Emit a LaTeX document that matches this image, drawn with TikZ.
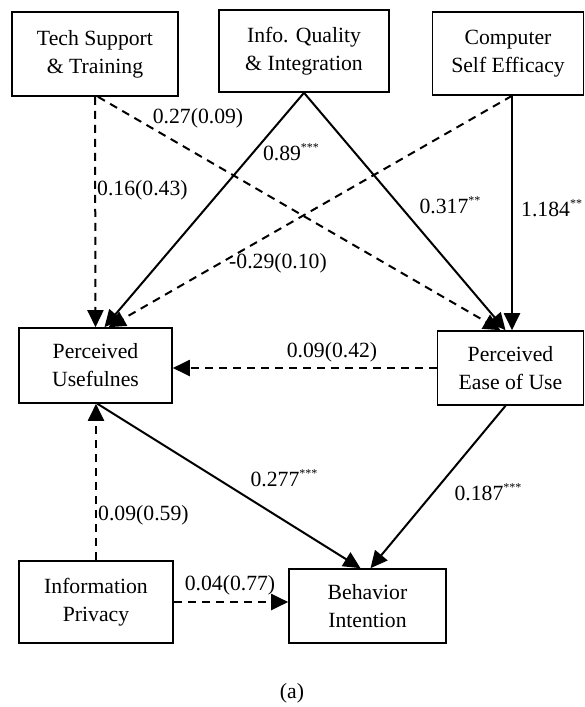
\documentclass[tikz,border=0pt]{standalone}
\usepackage{fontspec}
\setmainfont{Liberation Serif}
\usetikzlibrary{arrows.meta}
\newcommand\sig[1]{\raisebox{0.42em}{\fontsize{12pt}{12pt}\selectfont #1}}
\tikzset{
  box/.style={draw, line width=1.6pt, rectangle, align=center, inner sep=0pt,
    font=\fontsize{21.7pt}{28pt}\selectfont},
  lbl/.style={inner sep=0pt, font=\fontsize{21.7pt}{26pt}\selectfont},
  solidarrow/.style={line width=2pt, -{Triangle[length=17pt,width=16pt]}},
  dasharrow/.style={line width=2pt, dash pattern=on 8pt off 6pt, -{Triangle[length=17pt,width=16pt]}}
}
\begin{document}
\begin{tikzpicture}[x=1pt,y=-1pt]
\useasboundingbox (0,0) rectangle (585,707);
\fill[white] (0,0) rectangle (585,707);
% boxes
\node[box, minimum width=166pt, minimum height=84pt] (ts) at (95,54) {Tech Support\\\& Training};
\node[box, minimum width=170pt, minimum height=82pt] (iq) at (304,51) {Info. Quality\\\& Integration};
\node[box, minimum width=151pt, minimum height=83pt] (cse) at (508,53.5) {Computer\\Self Efficacy};
\node[box, minimum width=153pt, minimum height=75pt] (pu) at (95.5,365.5) {Perceived\\Usefulnes};
\node[box, minimum width=146pt, minimum height=74pt] (peou) at (510.5,368) {Perceived\\Ease of Use};
\node[box, minimum width=154pt, minimum height=82pt] (ip) at (96,602) {Information\\Privacy};
\node[box, minimum width=157pt, minimum height=74pt] (bi) at (367.5,606) {Behavior\\Intention};
% connectors to PU
\draw[dasharrow] (ts.south) -- (pu.north);
\draw[solidarrow] (iq.south) -- ([xshift=9pt]pu.north);
\draw[dasharrow] ([xshift=4pt]cse.south) -- ([xshift=13pt]pu.north);
% connectors to PEOU
\draw[dasharrow] ([xshift=3pt]ts.south) -- ([xshift=-10pt]peou.north);
\draw[solidarrow] (iq.south) -- ([xshift=-5pt]peou.north);
\draw[solidarrow] ([xshift=4pt]cse.south) -- ([xshift=4pt]cse.south |- peou.north);
% PEOU -> PU
\draw[dasharrow] (peou.west) -- (peou.west -| pu.east);
% to BI
\draw[solidarrow] ([xshift=2pt]pu.south) -- ([xshift=-7pt]bi.north);
\draw[solidarrow] ([xshift=-5pt]peou.south) -- ([xshift=3pt]bi.north);
\draw[dasharrow] (ip.north) -- (ip.north |- pu.south);
\draw[dasharrow] (ip.east) -- (ip.east -| bi.west);
% labels
\node[lbl] (l1) at (198,118) {0.27(0.09)};
\node[lbl, anchor=west] (l2) at (97,190) {0.16(0.43)};
\node[lbl] (l3) at (291,152) {0.89\sig{***}};
\node[lbl] (l4) at (450,205) {0.317\sig{**}};
\node[lbl, anchor=west] (l5) at (521,208) {1.184\sig{**}};
\node[lbl] (l6) at (278,263) {-0.29(0.10)};
\node[lbl] (l7) at (332,352) {0.09(0.42)};
\node[lbl] (l8) at (284,478) {0.277\sig{***}};
\node[lbl] (l9) at (488,492) {0.187\sig{***}};
\node[lbl, anchor=west] (l10) at (98,515) {0.09(0.59)};
\node[lbl] (l11) at (230,585) {0.04(0.77)};
\node[lbl] (cap) at (292,693) {(a)};
\end{tikzpicture}
\end{document}
